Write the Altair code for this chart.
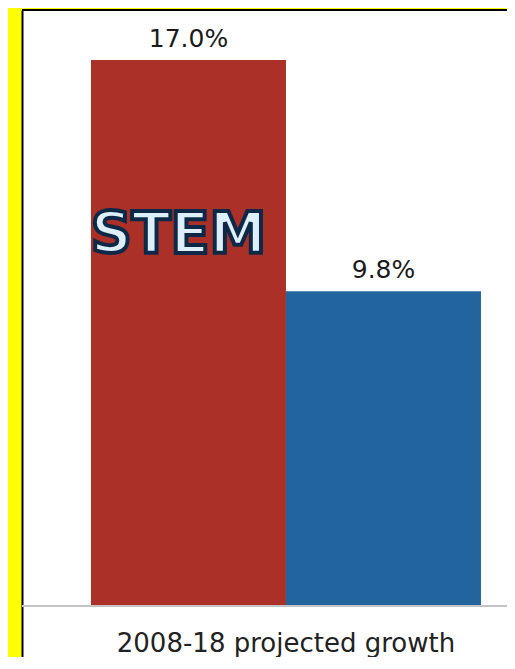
import altair as alt
import pandas as pd

categories = ["2008-18 projected growth"]
series = ["STEM", "Non-STEM"]
values = [17.0, 9.8]
value_labels = ["17.0%", "9.8%"]
colors = ["#AA3028", "#22649E"]

df = pd.DataFrame({
    "category": [categories[0]] * len(series),
    "series": series,
    "value": values,
    "label": value_labels,
})

W, H = 485, 647

x_enc = alt.X(
    "category:N",
    scale=alt.Scale(paddingInner=0, paddingOuter=0.1218, align=0.726),
    axis=alt.Axis(title=None, domain=False, ticks=False, labelAngle=0, labelLimit=0,
                  labelFont="DejaVu Sans", labelFontSize=26, labelColor="#222222",
                  labelBaseline="alphabetic", labelPadding=-6),
)
xo_enc = alt.XOffset("series:N", sort=series,
                     scale=alt.Scale(paddingInner=0, paddingOuter=0))
y_scale = alt.Scale(domain=[-1.5879, 18.557], nice=False, zero=False)

base = alt.Chart(df).encode(x=x_enc, xOffset=xo_enc)

bars = base.mark_bar().encode(
    y=alt.Y("value:Q", scale=y_scale,
            axis=alt.Axis(title=None, labels=False, ticks=False, grid=False,
                          domainColor="black", domainWidth=2)),
    y2=alt.datum(0),
    color=alt.Color("series:N", sort=series,
                    scale=alt.Scale(domain=series, range=colors), legend=None),
)

value_text = base.mark_text(
    dy=-13, baseline="alphabetic", font="DejaVu Sans", fontSize=25, color="#1b1b1b"
).encode(y=alt.Y("value:Q", scale=y_scale), text="label:N")

stem_text = base.transform_filter(alt.datum.series == "STEM").mark_text(
    dy=193, dx=-10, baseline="alphabetic", font="DejaVu Sans", fontWeight="bold",
    fontSize=57, fill="#DCEFFB", stroke="#0E2847", strokeWidth=4
).encode(y=alt.Y("value:Q", scale=y_scale), text="series:N")

baseline = alt.Chart(df).mark_rule(color="#C4C4C4", strokeWidth=2).encode(
    y=alt.datum(0)
)

top_line = alt.Chart(df).mark_rule(color="black", strokeWidth=2).encode(
    y=alt.value(0)
)

chart = alt.layer(bars, baseline, value_text, stem_text, top_line).properties(
    width=W, height=H,
    autosize=alt.AutoSizeParams(type="none"),
    padding={"left": 14, "top": 2, "right": 0, "bottom": 0},
).configure(background="#FFFF00").configure_view(fill="white", strokeWidth=0)

chart.save("out.html", embed_options={"renderer": "svg", "actions": False})
